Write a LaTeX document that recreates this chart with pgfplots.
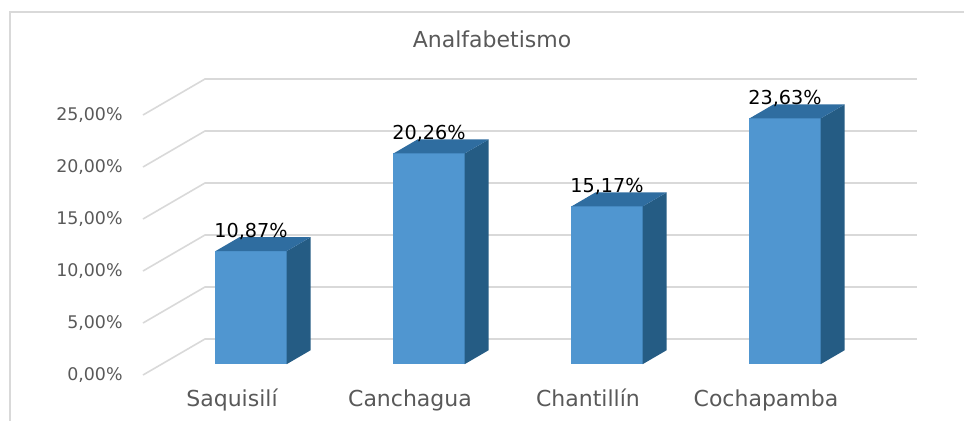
\documentclass[border=0pt]{standalone}
\usepackage{pgfplots}
\pgfplotsset{compat=1.18}
\usepackage{pgfplotstable}
\usepackage{fontspec}
\setmainfont{DejaVu Sans}
\definecolor{barfront}{HTML}{5096D0}
\definecolor{bartop}{HTML}{2F6DA0}
\definecolor{barside}{HTML}{255C84}
\definecolor{gridc}{HTML}{D9D9D9}
\definecolor{txtgray}{HTML}{595959}

\pgfplotstableread{
idx v
0 10.87
1 20.26
2 15.17
3 23.63
}\data

% depth offset of the back wall, in axis units
\def\dx{0.348}
\def\dy{3.46}

\begin{document}
\begin{tikzpicture}
\useasboundingbox (-71.5pt,-22.5pt) rectangle (410.5pt,187.5pt);
\draw[gridc, line width=0.7pt] (-66.5pt,-40pt) rectangle (430pt,181.5pt);
\begin{axis}[
    at={(0,0)}, anchor=south west,
    x=89pt, y=5.2pt,
    xmin=0, xmax=4.348,
    ymin=0, ymax=28.46,
    clip=false,
    axis line style={draw=none},
    major tick length=0pt,
    ytick={0,5,...,25},
    yticklabel={\pgfmathprintnumber[fixed,fixed zerofill,precision=2,use comma,assume math mode=true]{\tick}\%},
    yticklabel style={inner sep=0pt, anchor=east, xshift=-10pt, font=\fontsize{8.7}{10}\selectfont, text=txtgray},
    xtick={0.5,1.5,2.5,3.5},
    xticklabels={Saquisilí, Canchagua, Chantillín, Cochapamba},
    xticklabel style={inner sep=0pt, anchor=base, yshift=-15.5pt, font=\fontsize{11}{13}\selectfont, text=txtgray},
]
% perspective gridlines: side wall diagonal, then back wall
\pgfplotsinvokeforeach{0,5,10,15,20,25}{
  \pgfmathsetmacro\gb{#1+\dy}
  \addplot[gridc, line width=0.8pt] coordinates {(0,#1) (\dx,\gb) (4.348,\gb)};
}
% 3D columns: front, side and top faces
\pgfplotsinvokeforeach{0,...,3}{
  \pgfplotstablegetelem{#1}{v}\of\data
  \pgfmathsetmacro\yt{\pgfplotsretval+1.04}
  \pgfmathsetmacro\ytt{\pgfplotsretval+2.386}
  \pgfmathsetmacro\xa{#1+0.407}
  \pgfmathsetmacro\xb{#1+0.807}
  \pgfmathsetmacro\xc{#1+0.942}
  \pgfmathsetmacro\xd{#1+0.542}
  \addplot[fill=barfront, draw=none] coordinates {(\xa,1.04) (\xb,1.04) (\xb,\yt) (\xa,\yt)};
  \addplot[fill=barside, draw=none] coordinates {(\xb,1.04) (\xc,2.386) (\xc,\ytt) (\xb,\yt)};
  \addplot[fill=bartop, draw=none] coordinates {(\xa,\yt) (\xb,\yt) (\xc,\ytt) (\xd,\ytt)};
}
% value labels
\addplot[draw=none, mark=none, point meta=explicit,
    nodes near coords={\pgfmathprintnumber[fixed,fixed zerofill,precision=2,use comma,assume math mode=true]{\pgfplotspointmeta}\%},
    every node near coord/.append style={anchor=base, inner sep=0pt, yshift=7pt, font=\fontsize{9.6}{11}\selectfont, text=black}]
    table[x expr=\thisrow{idx}+0.607, y expr=\thisrow{v}+1.04, meta=v] {\data};
\end{axis}
\node[anchor=base, font=\fontsize{11}{13}\selectfont, text=txtgray] at (174.5pt,164pt) {Analfabetismo};
\end{tikzpicture}
\end{document}
